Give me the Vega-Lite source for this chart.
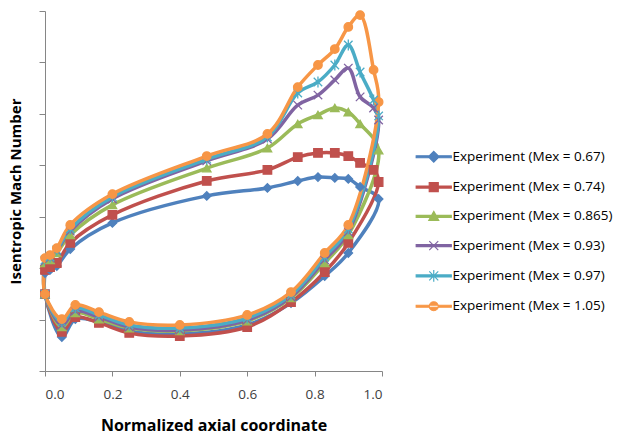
{
  "$schema": "https://vega.github.io/schema/vega-lite/v6.json",
  "width": 337,
  "height": 360,
  "autosize": {"type": "none"},
  "padding": {"left": 45, "top": 11, "right": 242, "bottom": 72},
  "background": "white",
  "config": {"view": {"stroke": null}, "font": "Open Sans"},
  "data": {
    "values": [
      {"m":"0.67","i":0,"x":0,"y":0.381},{"m":"0.67","i":1,"x":0,"y":0.299},{"m":"0.67","i":2,"x":0.05,"y":0.132},{"m":"0.67","i":3,"x":0.09,"y":0.202},{"m":"0.67","i":4,"x":0.16,"y":0.191},{"m":"0.67","i":5,"x":0.25,"y":0.156},{"m":"0.67","i":6,"x":0.4,"y":0.144},{"m":"0.67","i":7,"x":0.6,"y":0.179},{"m":"0.67","i":8,"x":0.73,"y":0.264},{"m":"0.67","i":9,"x":0.83,"y":0.369},{"m":"0.67","i":10,"x":0.9,"y":0.459},{"m":"0.67","i":11,"x":0.99,"y":0.669},{"m":"0.67","i":13,"x":0.935,"y":0.716},{"m":"0.67","i":14,"x":0.9,"y":0.747},{"m":"0.67","i":15,"x":0.86,"y":0.751},{"m":"0.67","i":16,"x":0.81,"y":0.754},{"m":"0.67","i":17,"x":0.75,"y":0.739},{"m":"0.67","i":18,"x":0.66,"y":0.712},{"m":"0.67","i":19,"x":0.48,"y":0.681},{"m":"0.67","i":20,"x":0.2,"y":0.576},{"m":"0.67","i":21,"x":0.075,"y":0.474},{"m":"0.67","i":22,"x":0.035,"y":0.408},{"m":"0.67","i":23,"x":0.015,"y":0.393},

      {"m":"0.74","i":0,"x":0,"y":0.393},{"m":"0.74","i":1,"x":0,"y":0.299},{"m":"0.74","i":2,"x":0.05,"y":0.152},{"m":"0.74","i":3,"x":0.09,"y":0.21},{"m":"0.74","i":4,"x":0.16,"y":0.187},{"m":"0.74","i":5,"x":0.25,"y":0.148},{"m":"0.74","i":6,"x":0.4,"y":0.136},{"m":"0.74","i":7,"x":0.6,"y":0.171},{"m":"0.74","i":8,"x":0.73,"y":0.268},{"m":"0.74","i":9,"x":0.83,"y":0.385},{"m":"0.74","i":10,"x":0.9,"y":0.498},{"m":"0.74","i":11,"x":0.99,"y":0.735},{"m":"0.74","i":12,"x":0.975,"y":0.782},{"m":"0.74","i":13,"x":0.935,"y":0.809},{"m":"0.74","i":14,"x":0.9,"y":0.836},{"m":"0.74","i":15,"x":0.86,"y":0.848},{"m":"0.74","i":16,"x":0.81,"y":0.848},{"m":"0.74","i":17,"x":0.75,"y":0.832},{"m":"0.74","i":18,"x":0.66,"y":0.782},{"m":"0.74","i":19,"x":0.48,"y":0.739},{"m":"0.74","i":20,"x":0.2,"y":0.607},{"m":"0.74","i":21,"x":0.075,"y":0.498},{"m":"0.74","i":22,"x":0.035,"y":0.42},{"m":"0.74","i":23,"x":0.015,"y":0.404},

      {"m":"0.865","i":0,"x":0,"y":0.42},{"m":"0.865","i":1,"x":0,"y":0.299},{"m":"0.865","i":2,"x":0.05,"y":0.171},{"m":"0.865","i":3,"x":0.09,"y":0.226},{"m":"0.865","i":4,"x":0.16,"y":0.202},{"m":"0.865","i":5,"x":0.25,"y":0.167},{"m":"0.865","i":6,"x":0.4,"y":0.156},{"m":"0.865","i":7,"x":0.6,"y":0.194},{"m":"0.865","i":8,"x":0.73,"y":0.284},{"m":"0.865","i":9,"x":0.83,"y":0.42},{"m":"0.865","i":10,"x":0.9,"y":0.529},{"m":"0.865","i":11,"x":0.99,"y":0.859},{"m":"0.865","i":13,"x":0.935,"y":0.961},{"m":"0.865","i":14,"x":0.9,"y":1.007},{"m":"0.865","i":15,"x":0.86,"y":1.023},{"m":"0.865","i":16,"x":0.81,"y":0.996},{"m":"0.865","i":17,"x":0.75,"y":0.961},{"m":"0.865","i":18,"x":0.66,"y":0.867},{"m":"0.865","i":19,"x":0.48,"y":0.789},{"m":"0.865","i":20,"x":0.2,"y":0.646},{"m":"0.865","i":21,"x":0.075,"y":0.529},{"m":"0.865","i":22,"x":0.035,"y":0.459},{"m":"0.865","i":23,"x":0.015,"y":0.432},

      {"m":"0.93","i":0,"x":0,"y":0.428},{"m":"0.93","i":1,"x":0,"y":0.299},{"m":"0.93","i":2,"x":0.05,"y":0.179},{"m":"0.93","i":3,"x":0.09,"y":0.233},{"m":"0.93","i":4,"x":0.16,"y":0.21},{"m":"0.93","i":5,"x":0.25,"y":0.171},{"m":"0.93","i":6,"x":0.4,"y":0.159},{"m":"0.93","i":7,"x":0.6,"y":0.198},{"m":"0.93","i":8,"x":0.73,"y":0.288},{"m":"0.93","i":9,"x":0.83,"y":0.432},{"m":"0.93","i":10,"x":0.9,"y":0.541},{"m":"0.93","i":11,"x":0.99,"y":0.976},{"m":"0.93","i":12,"x":0.975,"y":1.023},{"m":"0.93","i":13,"x":0.935,"y":1.066},{"m":"0.93","i":14,"x":0.9,"y":1.178},{"m":"0.93","i":15,"x":0.86,"y":1.132},{"m":"0.93","i":16,"x":0.81,"y":1.073},{"m":"0.93","i":17,"x":0.75,"y":1.034},{"m":"0.93","i":18,"x":0.66,"y":0.902},{"m":"0.93","i":19,"x":0.48,"y":0.817},{"m":"0.93","i":20,"x":0.2,"y":0.669},{"m":"0.93","i":21,"x":0.075,"y":0.544},{"m":"0.93","i":22,"x":0.035,"y":0.467},{"m":"0.93","i":23,"x":0.015,"y":0.439},

      {"m":"0.97","i":0,"x":0,"y":0.432},{"m":"0.97","i":1,"x":0,"y":0.299},{"m":"0.97","i":2,"x":0.05,"y":0.191},{"m":"0.97","i":3,"x":0.09,"y":0.245},{"m":"0.97","i":4,"x":0.16,"y":0.218},{"m":"0.97","i":5,"x":0.25,"y":0.179},{"m":"0.97","i":6,"x":0.4,"y":0.167},{"m":"0.97","i":7,"x":0.6,"y":0.206},{"m":"0.97","i":8,"x":0.73,"y":0.296},{"m":"0.97","i":9,"x":0.83,"y":0.443},{"m":"0.97","i":10,"x":0.9,"y":0.552},{"m":"0.97","i":11,"x":0.99,"y":0.992},{"m":"0.97","i":12,"x":0.975,"y":1.054},{"m":"0.97","i":13,"x":0.935,"y":1.163},{"m":"0.97","i":14,"x":0.9,"y":1.268},{"m":"0.97","i":15,"x":0.86,"y":1.19},{"m":"0.97","i":16,"x":0.81,"y":1.124},{"m":"0.97","i":17,"x":0.75,"y":1.081},{"m":"0.97","i":18,"x":0.66,"y":0.91},{"m":"0.97","i":19,"x":0.48,"y":0.824},{"m":"0.97","i":20,"x":0.2,"y":0.677},{"m":"0.97","i":21,"x":0.075,"y":0.552},{"m":"0.97","i":22,"x":0.035,"y":0.471},{"m":"0.97","i":23,"x":0.015,"y":0.443},

      {"m":"1.05","i":0,"x":0,"y":0.439},{"m":"1.05","i":1,"x":0,"y":0.299},{"m":"1.05","i":2,"x":0.05,"y":0.202},{"m":"1.05","i":3,"x":0.09,"y":0.257},{"m":"1.05","i":4,"x":0.16,"y":0.229},{"m":"1.05","i":5,"x":0.25,"y":0.191},{"m":"1.05","i":6,"x":0.4,"y":0.179},{"m":"1.05","i":7,"x":0.6,"y":0.218},{"m":"1.05","i":8,"x":0.73,"y":0.307},{"m":"1.05","i":9,"x":0.83,"y":0.459},{"m":"1.05","i":10,"x":0.9,"y":0.568},{"m":"1.05","i":11,"x":0.99,"y":1.046},{"m":"1.05","i":12,"x":0.975,"y":1.171},{"m":"1.05","i":13,"x":0.935,"y":1.384},{"m":"1.05","i":14,"x":0.9,"y":1.338},{"m":"1.05","i":15,"x":0.86,"y":1.252},{"m":"1.05","i":16,"x":0.81,"y":1.19},{"m":"1.05","i":17,"x":0.75,"y":1.104},{"m":"1.05","i":18,"x":0.66,"y":0.922},{"m":"1.05","i":19,"x":0.48,"y":0.836},{"m":"1.05","i":20,"x":0.2,"y":0.688},{"m":"1.05","i":21,"x":0.075,"y":0.568},{"m":"1.05","i":22,"x":0.035,"y":0.478},{"m":"1.05","i":23,"x":0.015,"y":0.451}
    ]
  },
  "encoding": {
    "x": {
      "field": "x", "type": "quantitative",
      "scale": {"domain": [0, 1], "nice": false, "zero": false},
      "axis": {
        "values": [0, 0.2, 0.4, 0.6, 0.8, 1], "format": ".1f", "grid": false,
        "domainColor": "#868686", "tickColor": "#868686", "tickSize": 5,
        "labelFontSize": 13.5, "labelColor": "#404040", "labelPadding": 11,
        "title": "Normalized axial coordinate", "titleFontSize": 16, "titleFontWeight": "bold",
        "titleColor": "#000000", "titlePadding": 17
      }
    },
    "y": {
      "field": "y", "type": "quantitative",
      "scale": {"domain": [0, 1.4], "nice": false, "zero": false},
      "axis": {
        "values": [0, 0.2, 0.4, 0.6, 0.8, 1, 1.2, 1.4], "labels": false, "grid": false,
        "domainColor": "#868686", "tickColor": "#868686", "tickSize": 6,
        "title": "Isentropic Mach Number", "titleFontSize": 15, "titleFontWeight": "bold",
        "titleColor": "#000000", "titlePadding": 15
      }
    },
    "order": {"field": "i", "type": "quantitative"},
    "color": {
      "field": "m", "type": "nominal",
      "scale": {
        "domain": ["0.67", "0.74", "0.865", "0.93", "0.97", "1.05"],
        "range": ["#4F81BD", "#C0504D", "#9BBB59", "#8064A2", "#4BACC6", "#F79646"]
      },
      "legend": {
        "orient": "none", "legendX": 382, "legendY": 139, "title": null, "padding": 0,
        "labelFont": "Open Sans", "labelFontSize": 13.5, "labelColor": "#000000", "labelLimit": 300,
        "labelExpr": "'Experiment (Mex = ' + datum.label + ')'",
        "symbolSize": 81, "labelOffset": 12, "rowPadding": 14.3,
        "encode": {
          "symbols": {
            "update": {
              "fill": {"scale": "color", "field": "value"},
              "stroke": {"scale": "color", "field": "value"},
              "fillOpacity": {"value": 1},
              "strokeWidth": {"value": 1.2},
              "shape": {"signal": "datum.value === '0.67' ? 'M-3.9,-0.22L3.9,-0.22L3.9,0.22L-3.9,0.22Z M0,-1.2L1.2,0L0,1.2L-1.2,0Z' : datum.value === '0.74' ? 'M-3.9,-0.22L3.9,-0.22L3.9,0.22L-3.9,0.22Z M-1,-1L1,-1L1,1L-1,1Z' : datum.value === '0.865' ? 'M-3.9,-0.22L3.9,-0.22L3.9,0.22L-3.9,0.22Z M0,-1.1L1.1,0.9L-1.1,0.9Z' : datum.value === '0.93' ? 'M-3.9,-0.22L3.9,-0.22L3.9,0.22L-3.9,0.22Z M-1,-1L1,1M-1,1L1,-1' : datum.value === '0.97' ? 'M-3.9,-0.22L3.9,-0.22L3.9,0.22L-3.9,0.22Z M-1,-1L1,1M-1,1L1,-1M0,-1.3L0,1.3' : 'M-3.9,-0.22L3.9,-0.22L3.9,0.22L-3.9,0.22Z M-1,0A1,1,0,1,0,1,0A1,1,0,1,0,-1,0Z'"}
            }
          }
        }
      }
    }
  },
  "layer": [
    {
      "mark": {"type": "line", "interpolate": "catmull-rom", "strokeWidth": 3.5}
    },
    {
      "mark": {"type": "point", "filled": true, "opacity": 1, "size": 72, "strokeWidth": 1.3},
      "encoding": {
        "shape": {
          "field": "m", "type": "nominal", "legend": null,
          "scale": {
            "domain": ["1.05", "0.97", "0.93", "0.865", "0.74", "0.67"],
            "range": ["circle", "M-1,-1L1,1M-1,1L1,-1M0,-1.3L0,1.3", "M-1,-1L1,1M-1,1L1,-1", "triangle-up", "square", "diamond"]
          }
        },
        "stroke": {
          "field": "m", "type": "nominal", "legend": null,
          "scale": {
            "domain": ["1.05", "0.97", "0.93", "0.865", "0.74", "0.67"],
            "range": ["#F79646", "#4BACC6", "#8064A2", "#9BBB59", "#C0504D", "#4F81BD"]
          }
        }
      }
    }
  ]
}
